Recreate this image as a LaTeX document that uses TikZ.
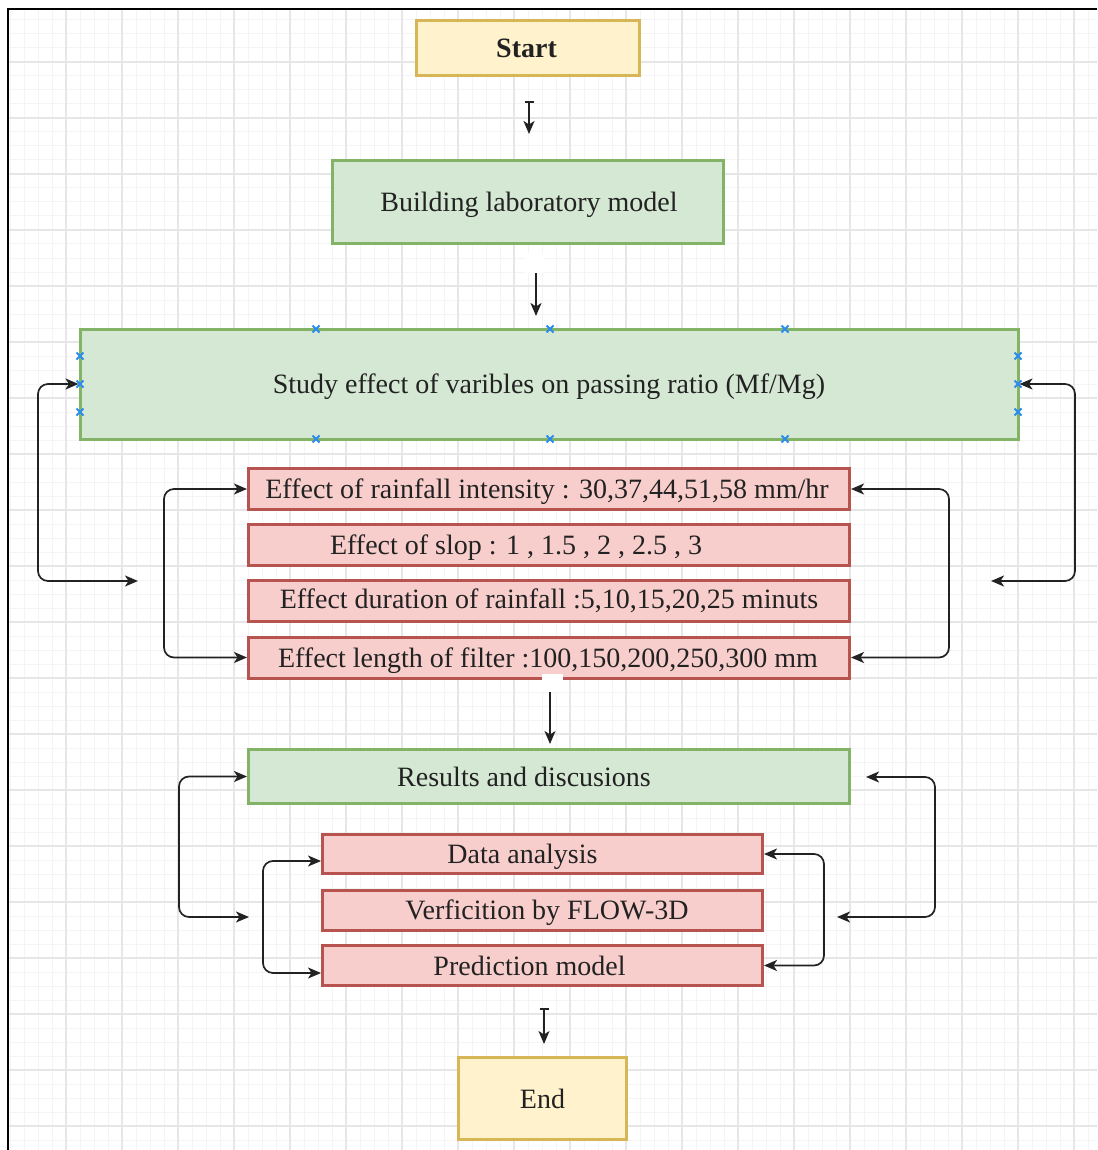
\documentclass[tikz,border=0pt]{standalone}
\usepackage{fontspec}
\setmainfont{Liberation Serif}
\usetikzlibrary{arrows.meta,calc}
\definecolor{gfill}{HTML}{D5E8D4}
\definecolor{gdraw}{HTML}{82B366}
\definecolor{rfill}{HTML}{F8CECC}
\definecolor{rdraw}{HTML}{B85450}
\definecolor{yfill}{HTML}{FFF2CC}
\definecolor{ydraw}{HTML}{D6B656}
\definecolor{minorc}{HTML}{F4F4F4}
\definecolor{majorc}{HTML}{E6E6E6}
\definecolor{linec}{HTML}{222222}
\definecolor{markc}{HTML}{2A8CF0}
\begin{document}
\begin{tikzpicture}[x=1pt,y=-1pt,
  box/.style={draw, line width=3pt, inner sep=0pt},
  greenbox/.style={box, fill=gfill, draw=gdraw},
  redbox/.style={box, fill=rfill, draw=rdraw},
  yellowbox/.style={box, fill=yfill, draw=ydraw},
  txt/.style={font=\fontsize{28}{32}\selectfont, text=linec, inner sep=0pt},
  dsc/.style={txt, yshift=-3pt},
  conn/.style={draw=linec, line width=1.7pt, rounded corners=10pt},
  both/.style={conn, {Stealth[length=13pt,width=11pt,inset=3.5pt]}-{Stealth[length=13pt,width=11pt,inset=3.5pt]}},
  barto/.style={conn, {Bar[width=9pt]}-{Stealth[length=13pt,width=11pt,inset=3.5pt]}},
  plainto/.style={conn, -{Stealth[length=13pt,width=11pt,inset=3.5pt]}},
  mk/.style={draw=markc, line width=2pt},
  minorgrid/.style={draw=minorc, line width=1pt},
  majorgrid/.style={draw=majorc, line width=1.2pt}
]
\useasboundingbox (0,0) rectangle (1097,1150);
\fill[white] (0,0) rectangle (1097,1150);
% grid
\foreach \x in {10,24,...,1096} \draw[minorgrid] (\x,9) -- (\x,1150);
\foreach \y in {20,34,...,1148} \draw[minorgrid] (8,\y) -- (1097,\y);
\foreach \x in {66,122,...,1096} \draw[majorgrid] (\x,9) -- (\x,1150);
\foreach \y in {62,118,...,1148} \draw[majorgrid] (8,\y) -- (1097,\y);
% frame
\draw[line width=2pt, black] (8,1150) -- (8,9) -- (1097,9);

% boxes
\node[yellowbox, minimum width=223pt, minimum height=55pt] (start) at (528,48) {};
\node[greenbox, minimum width=391pt, minimum height=83pt] (build) at (528,202) {};
\node[greenbox, minimum width=938pt, minimum height=110pt] (study) at (549,384) {};
\node[redbox, minimum width=601pt, minimum height=41pt] (r1) at (549,489) {};
\node[redbox, minimum width=601pt, minimum height=41pt] (r2) at (549,545) {};
\node[redbox, minimum width=601pt, minimum height=41pt] (r3) at (549,601) {};
\node[redbox, minimum width=601pt, minimum height=41pt] (r4) at (549,657.5) {};
\node[greenbox, minimum width=601pt, minimum height=54pt] (res) at (549,776.5) {};
\node[redbox, minimum width=440pt, minimum height=39pt] (d1) at (542.5,854) {};
\node[redbox, minimum width=440pt, minimum height=40pt] (d2) at (542.5,910) {};
\node[redbox, minimum width=440pt, minimum height=40pt] (d3) at (542.5,965.5) {};
\node[yellowbox, minimum width=168pt, minimum height=82pt] (end) at (542.5,1098.5) {};

% texts
\node[txt, font=\fontsize{28}{32}\selectfont\bfseries] (tstart) at ([xshift=-1.5pt]start.center) {Start};
\node[dsc] (tbuild) at ([xshift=1pt]build.center) {Building laboratory model};
\node[dsc] (tstudy) at (study.center) {Study effect of varibles on passing ratio (Mf/Mg)};
\node[dsc] (tr1) at ([xshift=-2pt]r1.center) {Effect of rainfall intensity : 30,37,44,51,58 mm/hr};
\node[dsc] (tr2) at ([xshift=-33pt]r2.center) {Effect of slop : 1 , 1.5 , 2 , 2.5 , 3};
\node[txt] (tr3) at (r3.center) {Effect duration of rainfall :5,10,15,20,25 minuts};
\node[dsc] (tr4) at ([xshift=-1pt]r4.center) {Effect length of filter :100,150,200,250,300 mm};
\node[txt] (tres) at ([xshift=-25pt]res.center) {Results and discusions};
\node[dsc] (td1) at ([xshift=-20pt]d1.center) {Data analysis};
\node[dsc] (td2) at ([xshift=4.5pt]d2.center) {Verficition by FLOW-3D};
\node[txt] (td3) at ([xshift=-13pt]d3.center) {Prediction model};
\node[txt] (tend) at (end.center) {End};

% free-end coordinates
\coordinate (a1s) at (529,101);
\coordinate (a1e) at (529,134);
\coordinate (a2s) at (536,273);
\coordinate (a2e) at (536,316);
\coordinate (a3s) at (550,692);
\coordinate (a3e) at (550,744);
\coordinate (a4s) at (544,1008);
\coordinate (a4e) at (544,1044);
\coordinate (sl) at (138,581);
\coordinate (sr) at (991,581);
\coordinate (rl) at (249,917);
\coordinate (rr1) at (866,777);
\coordinate (rr2) at (837,917);

% white label patches
\fill[white] (525,253) rectangle (543,273);
\fill[white] (542,674) rectangle (563,692);

% vertical arrows
\draw[barto] (a1s) -- (a1e);
\draw[plainto] (a2s) -- (a2e);
\draw[plainto] (a3s) -- (a3e);
\draw[barto] (a4s) -- (a4e);

% loops
\draw[both] (study.west) -- (38,384) -- (38,581) -- (sl);
\draw[both] (study.east) -- (1075,384) -- (1075,581) -- (sr);
\draw[both] (r1.west) -- (164,489) -- (164,657.5) -- (r4.west);
\draw[both] (r1.east) -- (949,489) -- (949,657.5) -- (r4.east);
\draw[both] (res.west) -- (179,776.5) -- (179,917) -- (rl);
\draw[both] (rr1) -- (935,777) -- (935,917) -- (rr2);
\draw[both] ([yshift=-7pt]d1.west) -- (263,861) -- (263,973) -- ([yshift=-7.5pt]d3.west);
\draw[both] (d1.east) -- (824,854) -- (824,965.5) -- (d3.east);

% connection marks on study box
\foreach \p in {(316,329),(550,329),(785,329),(316,439),(550,439),(785,439),
                (80,356),(80,384),(80,412),(1018,356),(1018,384),(1018,412)}{
  \draw[mk] \p ++(-3.5,-3.5) -- ++(7,7);
  \draw[mk] \p ++(-3.5,3.5) -- ++(7,-7);
}
\end{tikzpicture}
\end{document}
